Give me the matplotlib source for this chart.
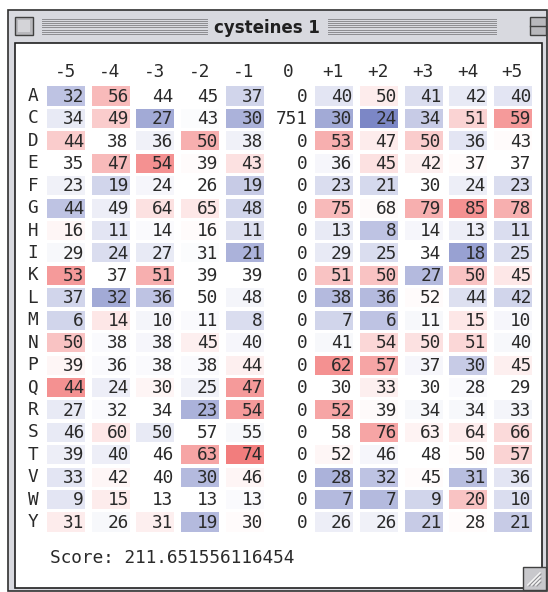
import matplotlib
matplotlib.use('Agg')
import matplotlib.pyplot as plt
from matplotlib.patches import Rectangle
from matplotlib.lines import Line2D
from matplotlib.colors import LinearSegmentedColormap

# ---- data ----
residues = ['A', 'C', 'D', 'E', 'F', 'G', 'H', 'I', 'K', 'L',
            'M', 'N', 'P', 'Q', 'R', 'S', 'T', 'V', 'W', 'Y']
positions = ['-5', '-4', '-3', '-2', '-1', '0', '+1', '+2', '+3', '+4', '+5']

counts = [
    [32, 56, 44, 45, 37, 0, 40, 50, 41, 42, 40],
    [34, 49, 27, 43, 30, 751, 30, 24, 34, 51, 59],
    [44, 38, 36, 50, 38, 0, 53, 47, 50, 36, 43],
    [35, 47, 54, 39, 43, 0, 36, 45, 42, 37, 37],
    [23, 19, 24, 26, 19, 0, 23, 21, 30, 24, 23],
    [44, 49, 64, 65, 48, 0, 75, 68, 79, 85, 78],
    [16, 11, 14, 16, 11, 0, 13, 8, 14, 13, 11],
    [29, 24, 27, 31, 21, 0, 29, 25, 34, 18, 25],
    [53, 37, 51, 39, 39, 0, 51, 50, 27, 50, 45],
    [37, 32, 36, 50, 48, 0, 38, 36, 52, 44, 42],
    [6, 14, 10, 11, 8, 0, 7, 6, 11, 15, 10],
    [50, 38, 38, 45, 40, 0, 41, 54, 50, 51, 40],
    [39, 36, 38, 38, 44, 0, 62, 57, 37, 30, 45],
    [44, 24, 30, 25, 47, 0, 30, 33, 30, 28, 29],
    [27, 32, 34, 23, 54, 0, 52, 39, 34, 34, 33],
    [46, 60, 50, 57, 55, 0, 58, 76, 63, 64, 66],
    [39, 40, 46, 63, 74, 0, 52, 46, 48, 50, 57],
    [33, 42, 40, 30, 46, 0, 28, 32, 45, 31, 36],
    [9, 15, 13, 13, 13, 0, 7, 7, 9, 20, 10],
    [31, 26, 31, 19, 30, 0, 26, 26, 21, 28, 21],
]

# over/under representation (red > 0, blue < 0), read off the cell shading
# None = column without shading (position 0)
shade = [
    [-.35, .35, 0, 0, -.25, None, -.15, .10, -.20, -.12, -.15],
    [-.12, .25, -.50, -.02, -.45, None, -.50, -.70, -.30, .22, .50],
    [.25, 0, -.08, .40, -.08, None, .40, .10, .25, -.15, .02],
    [0, .35, .55, .02, .15, None, -.05, .15, .08, .02, 0],
    [-.08, -.25, -.05, 0, -.30, None, -.20, -.22, 0, -.10, -.20],
    [-.35, -.10, .15, .12, -.25, None, .35, .03, .40, .55, .40],
    [.04, -.15, -.03, .02, -.18, None, -.12, -.35, -.05, -.10, -.20],
    [-.04, -.20, -.12, -.02, -.45, None, -.12, -.20, 0, -.55, -.20],
    [.50, 0, .40, 0, 0, None, .30, .30, -.40, .30, .12],
    [-.25, -.50, -.35, 0, -.06, None, -.40, -.40, .02, -.18, -.25],
    [-.25, .12, -.06, -.03, -.20, None, -.25, -.35, -.04, .12, -.05],
    [.30, -.03, -.05, .08, -.05, None, -.04, .20, .15, .20, -.04],
    [.04, -.03, -.03, -.03, .08, None, .55, .45, -.05, -.30, .08],
    [.55, -.10, .05, -.08, .50, None, 0, .08, 0, -.03, 0],
    [-.12, -.03, 0, -.45, .50, None, .45, .03, -.04, -.04, -.06],
    [-.12, .12, -.12, 0, -.04, None, 0, .45, .06, .10, .18],
    [-.10, -.10, 0, .45, .65, None, .04, -.05, 0, .02, .22],
    [-.15, .04, 0, -.40, .05, None, -.45, -.35, .02, -.38, -.15],
    [-.15, .10, 0, 0, -.03, None, -.40, -.40, -.25, .30, -.20],
    [.10, -.04, .08, -.40, .02, None, -.10, -.08, -.30, .02, -.30],
]

score = 211.651556116454
title = 'cysteines 1'

# ---- figure ----
W, H = 548, 592
fig = plt.figure(figsize=(W / 100, H / 100), dpi=100)
fig.patch.set_facecolor('white')


def px(x, y, w, h, **kw):
    # rectangle in pixel coords (top-left origin)
    r = Rectangle((x / W, 1 - (y + h) / H), w / W, h / H,
                  transform=fig.transFigure, **kw)
    fig.add_artist(r)
    return r


def pline(x0, y0, x1, y1, **kw):
    fig.add_artist(Line2D([x0 / W, x1 / W], [1 - y0 / H, 1 - y1 / H],
                          transform=fig.transFigure, **kw))


# window chrome
frame = '#d8d9df'
px(8, 10, 539, 581, facecolor=frame, edgecolor='#303030', lw=1.2)
# title bar stripes
for k in range(8):
    yy = 19 + k * 2.1
    pline(42, yy, 207, yy, color='#8c8c90', lw=0.7)
    pline(328, yy, 496, yy, color='#8c8c90', lw=0.7)
fig.text(267 / W, 1 - 28 / H, title, ha='center', va='center',
         fontsize=12, fontweight='bold', color='#202020', family='DejaVu Sans')
# close box
px(15, 17, 18, 18, facecolor='#b8b8bc', edgecolor='#404040', lw=1.0)
px(18, 20, 12, 12, facecolor='#d4d4d8', edgecolor='none')
# zoom box
px(530, 17, 16, 18, facecolor='#b8b8bc', edgecolor='#404040', lw=1.0)
pline(530, 26, 546, 26, color='#404040', lw=1.0)
# content area
px(15, 43, 527, 545, facecolor='white', edgecolor='#202020', lw=1.2)
# resize box
px(523, 567, 23, 23, facecolor='#c8c8cc', edgecolor='#404040', lw=1.0)
for k in range(3):
    pline(528 + k * 4, 585, 540, 573 + k * 4, color='#f4f4f4', lw=1.2)
    pline(529 + k * 4, 586, 541, 574 + k * 4, color='#909094', lw=0.8)

# table axes: columns / rows in index units mapped onto the pixel grid
x0, dx = 66, 44.7
y0, dy = 96, 22.42
ax = fig.add_axes([0, 0, 1, 1])
ax.set_zorder(10)
ax.set_xlim((0 - x0) / dx, (W - x0) / dx)
ax.set_ylim((H - y0) / dy, (0 - y0) / dy)
ax.axis('off')
ax.patch.set_alpha(0)

cmap = LinearSegmentedColormap.from_list(
    'bwr_soft', [(0.27, 0.33, 0.68), (1, 1, 1), (0.92, 0.22, 0.22)])

mono = 'DejaVu Sans Mono'
fs = 12.8
ink = '#2a2a2a'
cw, ch = 0.85, 0.85
for i, res in enumerate(residues):
    ax.text(-0.74, i, res, ha='center', va='center', fontsize=fs,
            family=mono, color=ink)
    for j, pos in enumerate(positions):
        s = shade[i][j]
        if s is not None and abs(s) > 0.001:
            ax.add_patch(Rectangle((j - cw / 2, i - ch / 2), cw, ch,
                                   facecolor=cmap((s + 1) / 2),
                                   edgecolor='none'))
        ax.text(j + 0.40, i + 0.03, str(counts[i][j]), ha='right',
                va='center', fontsize=fs, family=mono, color=ink)

for j, pos in enumerate(positions):
    ax.text(j - 0.02, (72 - y0) / dy, pos, ha='center', va='center',
            fontsize=fs, family=mono, color=ink)

ax.text((50 - x0) / dx, (558 - y0) / dy, 'Score: %s' % repr(score),
        ha='left', va='center', fontsize=fs, family=mono, color=ink)

plt.savefig('out.png', dpi=100)
